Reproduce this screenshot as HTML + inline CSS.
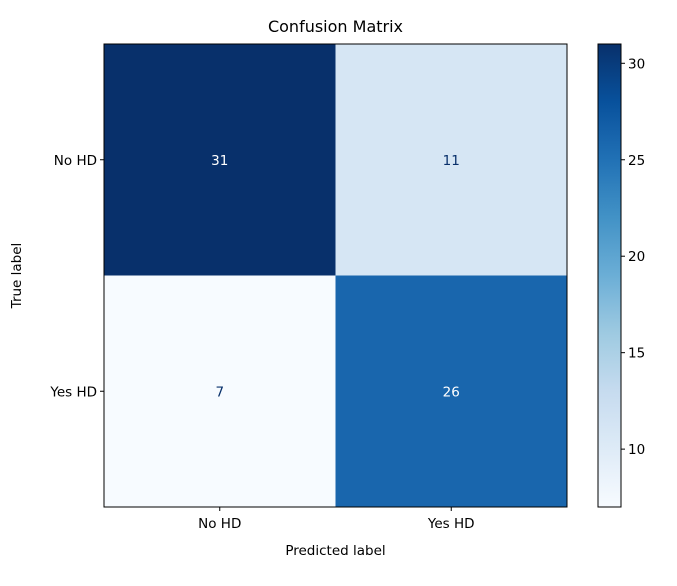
<!DOCTYPE html>
<html><head><meta charset="utf-8"><style>
body{margin:0;background:#fff;font-family:"DejaVu Sans","Liberation Sans",sans-serif}
svg text{font-family:"DejaVu Sans","Liberation Sans",sans-serif}
</style></head><body>
<svg id="c" width="677" height="582" viewBox="0 0 677 582"></svg>
<script>
const classes = ["No HD", "Yes HD"];
const matrix = [[31, 11], [7, 26]];
const cbTicks = [10, 15, 20, 25, 30];
const NS = "http://www.w3.org/2000/svg";
const svg = document.getElementById('c');
function mk(t, a, p) { const e = document.createElementNS(NS, t); for (const k in a) e.setAttribute(k, a[k]); (p || svg).appendChild(e); return e; }
const L = 104, R = 567, T = 44, B = 507;
const n = classes.length, cw = (R - L) / n, ch = (B - T) / n;
const flat = matrix.flat(); const vmin = Math.min(...flat), vmax = Math.max(...flat);
const stops = [[247,251,255],[222,235,247],[198,219,239],[158,202,225],[107,174,214],[66,146,198],[33,113,181],[8,81,156],[8,48,107]];
function blues(t) { t = Math.max(0, Math.min(1, t)) * 8; const i = Math.min(7, Math.floor(t)), f = t - i; const a = stops[i], b = stops[i + 1]; return `rgb(${a.map((v, k) => Math.round(v + (b[k] - v) * f)).join(',')})`; }
const norm = v => (v - vmin) / (vmax - vmin);
const title = mk('text', { x: 335.5, y: 32, 'text-anchor': 'middle', 'font-size': 16, fill: '#000' }); title.textContent = 'Confusion Matrix';
 
matrix.forEach((row, i) => row.forEach((v, j) => {
  const r = mk('rect', { x: L + j * cw, y: T + i * ch, width: cw, height: ch, fill: blues(norm(v)) });
   
  const t = mk('text', { x: L + (j + .5) * cw, y: T + (i + .5) * ch + 5, 'text-anchor': 'middle', 'font-size': 13.5, fill: norm(v) > .5 ? '#fff' : '#08306b' });
  t.textContent = v;  
}));
const frame = mk('rect', { x: L, y: T, width: R - L, height: B - T, fill: 'none', stroke: '#000', 'stroke-width': 1 });
 
classes.forEach((c, k) => {
  const x = L + (k + .5) * cw, y = T + (k + .5) * ch;
  mk('line', { x1: x, y1: B, x2: x, y2: B + 4, stroke: '#000' });
  const xt = mk('text', { x: x, y: B + 21, 'text-anchor': 'middle', 'font-size': 13.5 }); xt.textContent = c;
   
  mk('line', { x1: L - 4, y1: y, x2: L, y2: y, stroke: '#000' });
  const yt = mk('text', { x: L - 7, y: y + 5, 'text-anchor': 'end', 'font-size': 13.5 }); yt.textContent = c;
   
});
const xl = mk('text', { x: 335.5, y: 555, 'text-anchor': 'middle', 'font-size': 13.5 }); xl.textContent = 'Predicted label';
 
const yl = mk('text', { x: 0, y: 0, 'text-anchor': 'middle', 'font-size': 13.5, transform: 'translate(21,275.5) rotate(-90)' }); yl.textContent = 'True label';
 
// colorbar
const CL = 598, CR = 621;
const defs = mk('defs', {}); const g = mk('linearGradient', { id: 'cg', x1: 0, y1: 1, x2: 0, y2: 0 }, defs);
for (let k = 0; k <= 16; k++) mk('stop', { offset: k / 16, 'stop-color': blues(k / 16) }, g);
const cb = mk('rect', { x: CL, y: T, width: CR - CL, height: B - T, fill: 'url(#cg)', stroke: '#000', 'stroke-width': 1 });
 
const cy = v => B - norm(v) * (B - T);
cbTicks.forEach(v => {
  mk('line', { x1: CR, y1: cy(v), x2: CR + 4, y2: cy(v), stroke: '#000' });
  const t = mk('text', { x: CR + 7, y: cy(v) + 5, 'font-size': 13.5 }); t.textContent = v;
   
});
</script>
</body></html>
